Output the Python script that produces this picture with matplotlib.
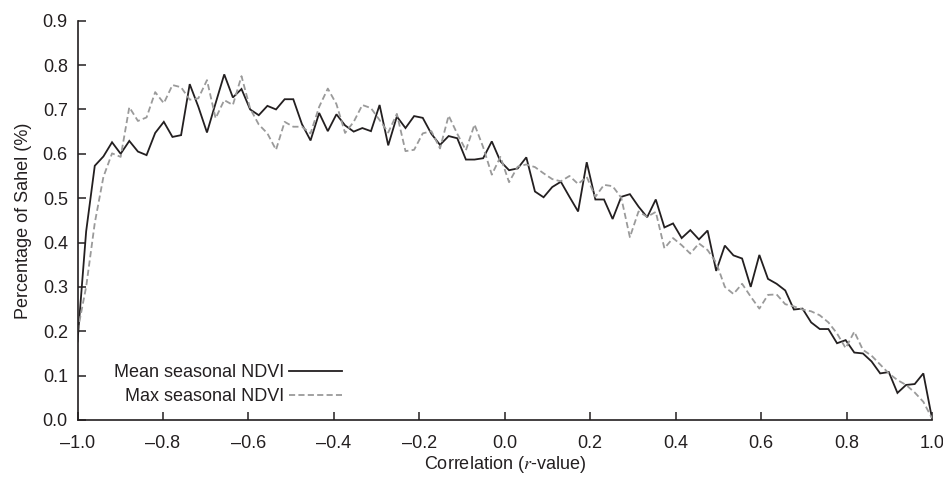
import numpy as np
import matplotlib
matplotlib.use("Agg")
import matplotlib.pyplot as plt

# ---- data ----
r_values = np.linspace(-1.0, 1.0, 100)

mean_ndvi = [
    0.177, 0.425, 0.573, 0.594, 0.626, 0.600, 0.629, 0.605, 0.597, 0.647,
    0.672, 0.638, 0.642, 0.757, 0.706, 0.648, 0.714, 0.779, 0.727, 0.746,
    0.700, 0.687, 0.708, 0.700, 0.723, 0.723, 0.667, 0.630, 0.692, 0.651,
    0.689, 0.664, 0.650, 0.658, 0.651, 0.710, 0.619, 0.684, 0.658, 0.685,
    0.681, 0.645, 0.620, 0.640, 0.635, 0.587, 0.587, 0.590, 0.628, 0.583,
    0.563, 0.567, 0.592, 0.515, 0.502, 0.525, 0.537, 0.503, 0.470, 0.581,
    0.497, 0.497, 0.453, 0.503, 0.509, 0.481, 0.457, 0.497, 0.434, 0.443,
    0.410, 0.428, 0.407, 0.427, 0.336, 0.393, 0.371, 0.364, 0.300, 0.372,
    0.318, 0.307, 0.292, 0.249, 0.251, 0.220, 0.205, 0.205, 0.173, 0.180,
    0.152, 0.150, 0.132, 0.105, 0.108, 0.061, 0.079, 0.081, 0.105, 0.004,
]

max_ndvi = [
    0.200, 0.300, 0.444, 0.548, 0.601, 0.593, 0.705, 0.674, 0.682, 0.739,
    0.714, 0.755, 0.750, 0.722, 0.725, 0.766, 0.680, 0.721, 0.710, 0.775,
    0.702, 0.666, 0.646, 0.609, 0.672, 0.661, 0.661, 0.646, 0.706, 0.747,
    0.712, 0.647, 0.672, 0.710, 0.703, 0.676, 0.648, 0.690, 0.606, 0.609,
    0.646, 0.651, 0.612, 0.686, 0.645, 0.608, 0.666, 0.615, 0.553, 0.593,
    0.536, 0.571, 0.576, 0.570, 0.556, 0.543, 0.538, 0.550, 0.532, 0.548,
    0.503, 0.530, 0.527, 0.501, 0.412, 0.470, 0.458, 0.469, 0.387, 0.410,
    0.394, 0.375, 0.398, 0.383, 0.355, 0.300, 0.284, 0.307, 0.278, 0.251,
    0.282, 0.283, 0.261, 0.256, 0.249, 0.245, 0.236, 0.220, 0.195, 0.162,
    0.199, 0.158, 0.145, 0.125, 0.105, 0.090, 0.079, 0.062, 0.041, 0.004,
]

x_ticks = [-1.0, -0.8, -0.6, -0.4, -0.2, 0.0, 0.2, 0.4, 0.6, 0.8, 1.0]
x_tick_labels = ["\u20131.0", "\u20130.8", "\u20130.6", "\u20130.4", "\u20130.2",
                 "0.0", "0.2", "0.4", "0.6", "0.8", "1.0"]
y_ticks = [0.0, 0.1, 0.2, 0.3, 0.4, 0.5, 0.6, 0.7, 0.8, 0.9]
y_tick_labels = ["0.0", "0.1", "0.2", "0.3", "0.4", "0.5", "0.6", "0.7", "0.8", "0.9"]

series_labels = ["Mean seasonal NDVI", "Max seasonal NDVI"]

# ---- style ----
plt.rcParams['font.family'] = ['Liberation Sans', 'DejaVu Sans']
plt.rcParams['mathtext.fontset'] = 'stix'
text_color = '#231f20'

fig = plt.figure(figsize=(9.43, 4.79), dpi=100)
ax = fig.add_axes([0.0822, 0.1232, 0.9061, 0.8336])

ax.plot(r_values, mean_ndvi, color=text_color, lw=1.3, solid_joinstyle='miter',
        label=series_labels[0])
ax.plot(r_values, max_ndvi, color='#9a9a9a', lw=1.3, dashes=(3.4, 1.8),
        label=series_labels[1])

ax.set_xlim(-1.0, 1.0)
ax.set_ylim(0.0, 0.9)
ax.set_xticks(x_ticks)
ax.set_xticklabels(x_tick_labels)
ax.set_yticks(y_ticks)
ax.set_yticklabels(y_tick_labels)

for s in ['top', 'right']:
    ax.spines[s].set_visible(False)
for s in ['left', 'bottom']:
    ax.spines[s].set_linewidth(1.2)
    ax.spines[s].set_color(text_color)

ax.tick_params(axis='both', direction='in', length=5.5, width=1.1,
               colors=text_color, labelsize=13)
ax.tick_params(axis='x', pad=10.5)
ax.tick_params(axis='y', pad=7)

ax.set_xlabel("Correlation ($r$-value)", fontsize=13, color=text_color, labelpad=2)
ax.set_ylabel("Percentage of Sahel (%)", fontsize=13, color=text_color, labelpad=8)

leg = ax.legend(loc='upper right', bbox_to_anchor=(0.309, 0.14), frameon=False,
                markerfirst=False, handlelength=2.9, handletextpad=0.3,
                borderpad=0, borderaxespad=0, labelspacing=0.4, fontsize=13)
for t in leg.get_texts():
    t.set_color(text_color)

fig.savefig("out.png", dpi=100)
